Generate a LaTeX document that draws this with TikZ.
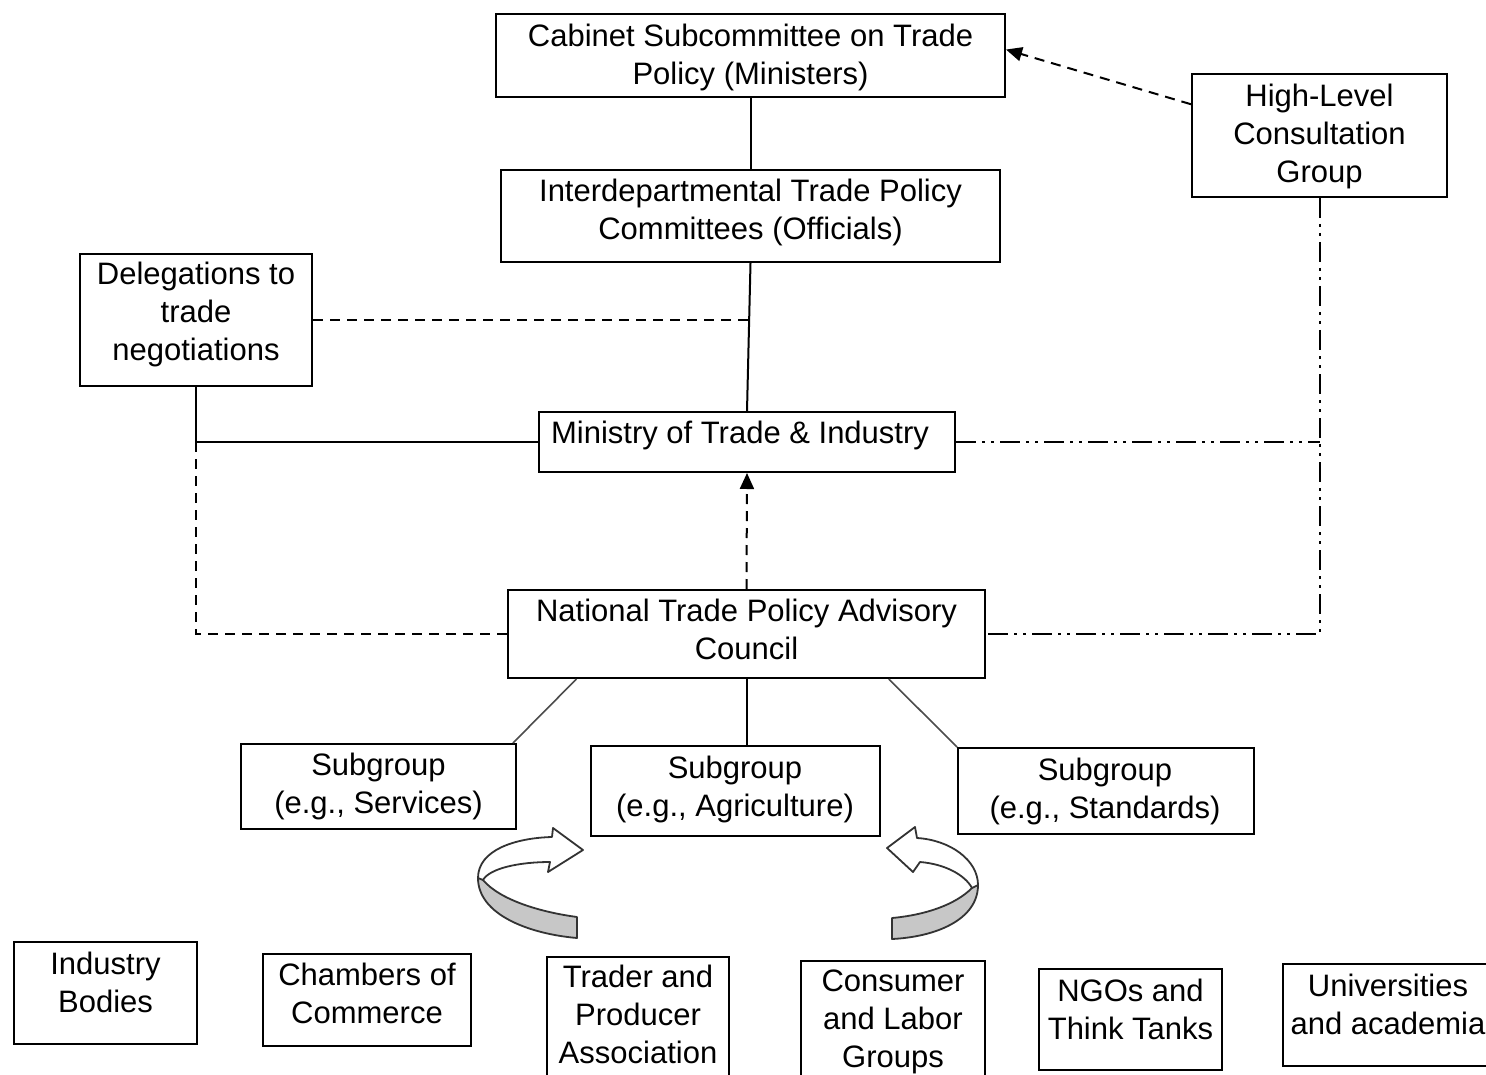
\documentclass[tikz,border=0pt]{standalone}
\usepackage{fontspec}
\setmainfont{Liberation Sans}
\usetikzlibrary{arrows.meta,calc}
\begin{document}
\begin{tikzpicture}[x=1pt,y=-1pt,
  box/.style={draw=black, line width=2pt, rectangle, inner sep=0pt},
  txt/.style={font=\fontsize{31}{38}\selectfont, align=center, inner sep=0pt, anchor=north},
  link/.style={line width=2pt},
  dlink/.style={line width=2pt, dash pattern=on 10pt off 7pt},
  ddlink/.style={line width=2pt, dash pattern=on 20pt off 6pt on 3pt off 6pt on 3pt off 6pt},
  thinlink/.style={line width=1.6pt, black!70},
  tipend/.style={-{Triangle[length=16pt,width=14pt]}},
  ribbon/.style={draw=black!80, line width=1.8pt, line join=round}
]
\useasboundingbox (0,0) rectangle (1486,1075);
\fill[white] (0,0) rectangle (1486,1075);
\clip (0,0) rectangle (1486,1075);

% boxes
\node[box, minimum width=509pt, minimum height=83pt] (cab) at (750.5,55.5) {};
\node[txt] at (750.5,24) {Cabinet Subcommittee on Trade\\Policy (Ministers)};

\node[box, minimum width=499pt, minimum height=92pt] (inter) at (750.5,216) {};
\node[txt] at (750.5,179) {Interdepartmental Trade Policy\\Committees (Officials)};

\node[box, minimum width=255pt, minimum height=123pt] (hl) at (1319.5,135.5) {};
\node[txt] at (1319.5,84) {High-Level\\Consultation\\Group};

\node[box, minimum width=232pt, minimum height=132pt] (deleg) at (196,320) {};
\node[txt] at (196,262) {Delegations to\\trade\\negotiations};

\node[box, minimum width=416pt, minimum height=60pt] (min) at (747,442) {};
\node[txt] at (740,421) {Ministry of Trade \& Industry};

\node[box, minimum width=477pt, minimum height=88pt] (nat) at (746.5,634) {};
\node[txt] at (746.5,599) {National Trade Policy Advisory\\Council};

\node[box, minimum width=275pt, minimum height=85pt] (sg1) at (378.5,786.5) {};
\node[txt] at (378.5,753) {Subgroup\\(e.g., Services)};

\node[box, minimum width=289pt, minimum height=90pt] (sg2) at (735.5,791) {};
\node[txt] at (735,756) {Subgroup\\(e.g., Agriculture)};

\node[box, minimum width=296pt, minimum height=86pt] (sg3) at (1106,791) {};
\node[txt] at (1105,758) {Subgroup\\(e.g., Standards)};

\node[box, minimum width=183pt, minimum height=102pt] (ib) at (105.5,993) {};
\node[txt] at (105.5,952) {Industry\\Bodies};

\node[box, minimum width=208pt, minimum height=92pt] (cc) at (367,1000) {};
\node[txt] at (367,963) {Chambers of\\Commerce};

\node[box, minimum width=182pt, minimum height=138pt] (tp) at (638,1026) {};
\node[txt] at (638,965) {Trader and\\Producer\\Association};

\node[box, minimum width=184pt, minimum height=138pt] (cl) at (893,1030) {};
\node[txt] at (893,970) {Consumer\\and Labor\\Groups};

\node[box, minimum width=183pt, minimum height=101pt] (ngo) at (1130.5,1019.5) {};
\node[txt] at (1130.5,979) {NGOs and\\Think Tanks};

\node[box, minimum width=210pt, minimum height=102pt] (uni) at (1388,1015) {};
\node[txt] at (1388,974) {Universities\\and academia};

% connectors
\draw[link] (cab) -- (inter);
\draw[link] (inter.south) -- (min.north);
\coordinate (j1) at ($(inter.south)!0.5!(min.north)$);
\coordinate (j1) at (j1 |- deleg.east);
\draw[dlink] (deleg.east) -- (j1);
\coordinate (j2) at (deleg.south |- min.west);
\draw[link] (deleg.south) -- (j2) -- (min.west);
\draw[dlink] (j2) -- (j2 |- nat.west) -- (nat.west);
\draw[dlink, tipend] (nat.north) -- (min.south);
\coordinate (hlport) at ($(hl.north west)!0.25!(hl.south west)$);
\coordinate (cabport) at ($(cab.north east)!0.43!(cab.south east)$);
\draw[dlink, tipend] (hlport) -- (cabport);
\coordinate (j3) at (hl.south |- min.east);
\draw[ddlink] (hl.south) -- (hl.south |- nat.east) -- (nat.east);
\draw[ddlink] (min.east) -- (j3);
\draw[link] (nat.south) -- (nat.south |- sg2.north);
\draw[thinlink] ($(nat.south west)!0.145!(nat.south east)$) -- ([xshift=-4pt]sg1.north east);
\draw[thinlink] ($(nat.south west)!0.797!(nat.south east)$) -- (sg3.north west);

% curved 3D arrows
\fill[black!22] (483,880) .. controls (500,900) and (540,912) .. (577,917) -- (577,938) .. controls (530,934) and (478,915) .. (478,878) -- cycle;
\draw[ribbon] (483,880) .. controls (500,900) and (540,912) .. (577,917) -- (577,938) .. controls (530,934) and (478,915) .. (478,878);
\filldraw[ribbon, fill=white] (478,878) .. controls (478,850) and (515,838) .. (552,837) -- (553,828) -- (583,850) -- (548,872) -- (550,862) .. controls (520,862) and (490,868) .. (483,880) -- cycle;

\fill[black!22] (972,888) .. controls (955,905) and (925,915) .. (892,918) -- (892,939) .. controls (935,937) and (978,920) .. (978,885) -- cycle;
\draw[ribbon] (972,888) .. controls (955,905) and (925,915) .. (892,918) -- (892,939) .. controls (935,937) and (978,920) .. (978,885);
\filldraw[ribbon, fill=white] (978,885) .. controls (978,860) and (950,840) .. (917,838) -- (915,827) -- (887,848) -- (913,872) -- (920,862) .. controls (945,864) and (965,875) .. (972,888) -- cycle;
\end{tikzpicture}
\end{document}
